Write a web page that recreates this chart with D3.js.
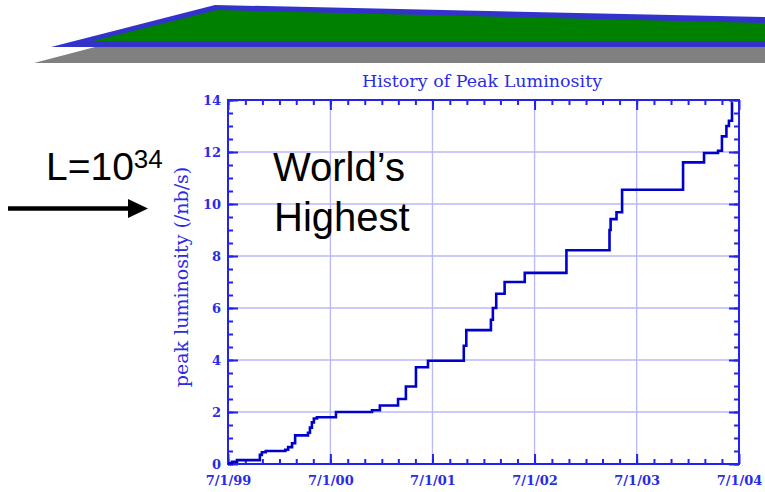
<!DOCTYPE html>
<html><head><meta charset="utf-8">
<script src="https://cdn.jsdelivr.net/npm/d3@7/dist/d3.min.js"></script>
<style>html,body{margin:0;padding:0;background:#fff;}svg{display:block;}</style>
</head><body>
<svg id="c" width="765" height="492"></svg>
<script>
// ---- data ----
const stepDates = ["1999-07-01","1999-07-15","1999-08-02","1999-10-23","1999-10-30","1999-11-13",
  "2000-01-22","2000-02-01","2000-02-15","2000-02-26","2000-04-12","2000-04-19","2000-04-26",
  "2000-05-03","2000-05-14","2000-07-21","2000-11-27","2000-12-25","2001-02-28","2001-03-28",
  "2001-05-03","2001-06-15","2001-10-21","2001-10-30","2002-01-26","2002-02-02","2002-02-14",
  "2002-03-16","2002-05-27","2002-10-23","2003-03-26","2003-03-30","2003-04-20","2003-05-10",
  "2003-12-14","2004-02-27","2004-04-17","2004-05-01","2004-05-17","2004-05-26","2004-06-06","2004-06-08"];
const peakLumi = [0.03,0.08,0.15,0.35,0.45,0.5,
  0.55,0.65,0.8,1.1,1.2,1.4,1.6,
  1.75,1.8,2.0,2.07,2.25,2.5,2.98,
  3.72,3.97,4.55,5.15,5.55,6.0,6.55,
  7.0,7.35,8.22,9.0,9.42,9.68,10.55,
  11.6,11.96,12.05,12.6,13.0,13.2,13.9,13.9];
const xTickDates = ["1999-07-01","2000-07-01","2001-07-01","2002-07-01","2003-07-01","2004-07-01"];
const xTickLabels = ["7/1/99","7/1/00","7/1/01","7/1/02","7/1/03","7/1/04"];
const yTicks = [0,2,4,6,8,10,12,14];
const titleText = "History of Peak Luminosity";
const yLabel = "peak luminosity (/nb/s)";

// ---- setup ----
const parse = d3.timeParse("%Y-%m-%d");
const svg = d3.select("#c");
const L = 228, R = 739, T = 100, B = 464;
const x = d3.scaleTime().domain([parse(xTickDates[0]), parse(xTickDates[xTickDates.length-1])]).range([L, R]);
const y = d3.scaleLinear().domain([0, 14]).range([B, T]);
const blue = "#2323f0", gridC = "#b8b8fa", lineC = "#0000cc", txtC = "#2b2be6";
const serif = "'DejaVu Serif', serif";

// top decoration
const deco = svg.append("g");
deco.append("polygon").attr("points","34,63 95,47 765,47 765,63").attr("fill","#808080");
deco.append("polygon").attr("points","51,47 215,5 765,17 765,47").attr("fill","#3333cc");
deco.append("polygon").attr("points","93,41 217,10 765,23 765,41").attr("fill","#008000");

// grid
const g = svg.append("g");
g.selectAll(".gx").data(xTickDates.slice(1,-1)).join("line")
  .attr("x1", d=>x(parse(d))).attr("x2", d=>x(parse(d))).attr("y1", T).attr("y2", B)
  .attr("stroke", gridC).attr("stroke-width", 1.3);
g.selectAll(".gy").data(yTicks.slice(1,-1)).join("line")
  .attr("y1", d=>y(d)).attr("y2", d=>y(d)).attr("x1", L).attr("x2", R)
  .attr("stroke", gridC).attr("stroke-width", 1.3);

// minor ticks
const minorX = d3.timeMonth.every(2).range(x.domain()[0], x.domain()[1]);
const minorY = d3.range(0, 14.01, 0.5);
function styleAxis(sel){
  sel.select(".domain").remove();
  sel.selectAll(".tick line").attr("stroke", blue).attr("stroke-width", 2);
  sel.selectAll(".tick text").attr("fill", txtC).attr("font-family", serif)
    .attr("font-weight","bold").attr("font-size", 13);
}
svg.append("g").attr("transform",`translate(0,${B})`)
  .call(d3.axisBottom(x).tickValues(minorX).tickSize(-5).tickFormat("")).call(styleAxis);
svg.append("g").attr("transform",`translate(0,${T})`)
  .call(d3.axisTop(x).tickValues(minorX).tickSize(-5).tickFormat("")).call(styleAxis);
svg.append("g").attr("transform",`translate(${L},0)`)
  .call(d3.axisLeft(y).tickValues(minorY).tickSize(-5).tickFormat("")).call(styleAxis);
svg.append("g").attr("transform",`translate(${R},0)`)
  .call(d3.axisRight(y).tickValues(minorY).tickSize(-5).tickFormat("")).call(styleAxis);

// major ticks + labels
svg.append("g").attr("transform",`translate(0,${B})`)
  .call(d3.axisBottom(x).tickValues(xTickDates.map(parse)).tickSize(-10).tickPadding(12)
    .tickFormat((d,i)=>xTickLabels[i])).call(styleAxis);
svg.append("g").attr("transform",`translate(0,${T})`)
  .call(d3.axisTop(x).tickValues(xTickDates.map(parse)).tickSize(-10).tickFormat("")).call(styleAxis);
svg.append("g").attr("transform",`translate(${L},0)`)
  .call(d3.axisLeft(y).tickValues(yTicks).tickSize(-10).tickPadding(7).tickFormat(d3.format("d"))).call(styleAxis);
svg.append("g").attr("transform",`translate(${R},0)`)
  .call(d3.axisRight(y).tickValues(yTicks).tickSize(-10).tickFormat("")).call(styleAxis);

// frame
svg.append("rect").attr("x", L).attr("y", T).attr("width", R-L).attr("height", B-T)
  .attr("fill","none").attr("stroke", blue).attr("stroke-width", 2);

// data line
const pts = stepDates.map((d,i)=>({d:parse(d), v:peakLumi[i]}));
svg.append("path").datum(pts)
  .attr("d", d3.line().x(p=>x(p.d)).y(p=>y(p.v)).curve(d3.curveStepAfter))
  .attr("fill","none").attr("stroke", lineC).attr("stroke-width", 2.6);

// title & y label
svg.append("text").attr("x", 482).attr("y", 87).attr("text-anchor","middle")
  .attr("font-family", serif).attr("font-size", 17.5).attr("fill", txtC).text(titleText);
svg.append("text").attr("transform","translate(188,277) rotate(-90)").attr("text-anchor","middle")
  .attr("font-family", serif).attr("font-size", 19).attr("fill", txtC).text(yLabel);

// annotations
const sans = "'Liberation Sans', Arial, sans-serif";
const lt = svg.append("text").attr("x", 46).attr("y", 180).attr("font-family", sans)
  .attr("font-size", 39).attr("fill","#000");
lt.append("tspan").text("L=10");
lt.append("tspan").attr("dy", -12).attr("font-size", 26).text("34");
svg.append("text").attr("x", 273).attr("y", 181).attr("font-family", sans)
  .attr("font-size", 40).attr("fill","#000").text("World’s");
svg.append("text").attr("x", 274).attr("y", 231).attr("font-family", sans)
  .attr("font-size", 40).attr("fill","#000").text("Highest");
svg.append("line").attr("x1", 8).attr("y1", 208.5).attr("x2", 132).attr("y2", 208.5)
  .attr("stroke","#000").attr("stroke-width", 4.5);
svg.append("polygon").attr("points","128,199 148,208.5 128,218").attr("fill","#000");
</script>
</body></html>
